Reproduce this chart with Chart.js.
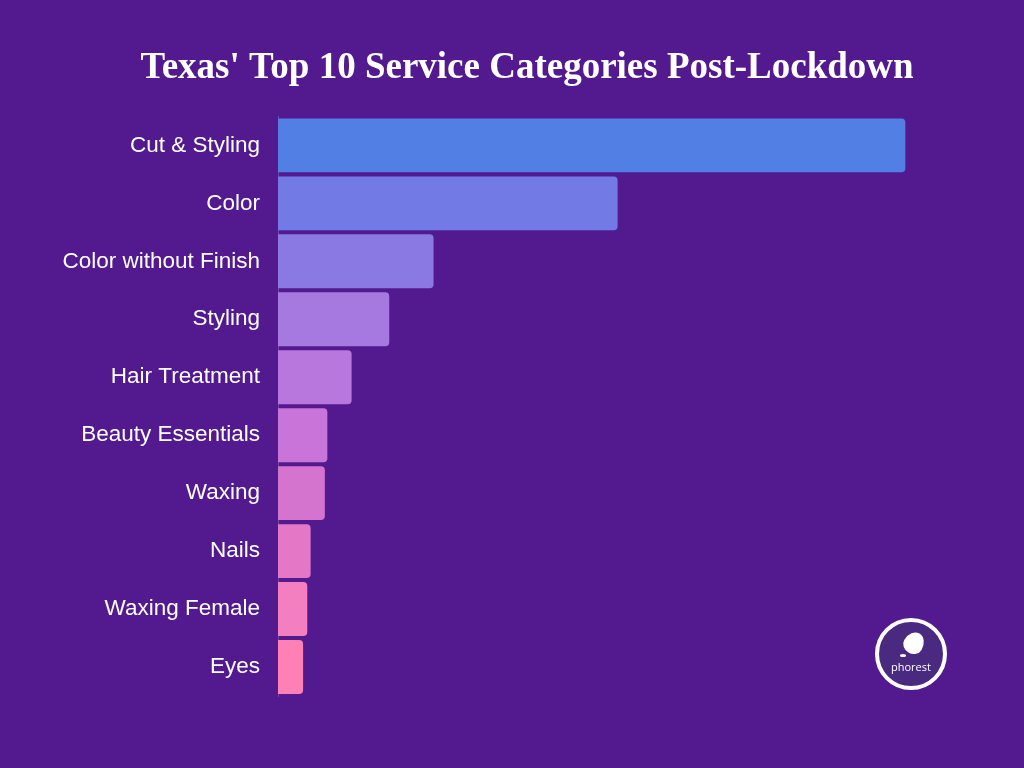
<!DOCTYPE html>
<html>
<head>
<meta charset="utf-8">
<script src="https://cdn.jsdelivr.net/npm/chart.js@4/dist/chart.umd.min.js"></script>
<style>
  html, body { margin: 0; padding: 0; background: #521A8E; }
  #wrap { position: relative; width: 1024px; height: 768px; }
  #logo { position: absolute; left: 875px; top: 618px; width: 64px; height: 64px; border: 4px solid #ffffff; border-radius: 50%; background: #4A2A80; }
  #logo .egg { position: absolute; left: 25px; top: 10px; width: 20px; height: 22px; background: #fff; border-radius: 50% 50% 50% 50% / 60% 60% 40% 40%; transform: rotate(30deg); }
  #logo .dot { position: absolute; left: 21px; top: 32px; width: 6px; height: 3px; background: #fff; border-radius: 50%; }
  #logo .txt { position: absolute; left: 0; width: 64px; top: 37px; text-align: center; color: #fff; font: 11px "Open Sans", sans-serif; }
</style>
</head>
<body>
<div id="wrap">
<canvas id="c" width="1024" height="768"></canvas>
<div id="logo"><div class="egg"></div><div class="dot"></div><div class="txt">phorest</div></div>
</div>
<script>
const categories = ["Cut & Styling", "Color", "Color without Finish", "Styling", "Hair Treatment", "Beauty Essentials", "Waxing", "Nails", "Waxing Female", "Eyes"];
const values = [37.5, 20.3, 9.3, 6.65, 4.4, 2.95, 2.8, 1.95, 1.75, 1.5];
const barColors = ["#517FE3", "#727BE5", "#8A79E2", "#A579E0", "#B877DD", "#C974D8", "#D574CE", "#E578C6", "#F47FC0", "#FE80B4"];
const chartTitle = "Texas' Top 10 Service Categories Post-Lockdown";

new Chart(document.getElementById('c'), {
  type: 'bar',
  data: {
    labels: categories,
    datasets: [{
      data: values,
      backgroundColor: barColors,
      borderRadius: 4,
      borderSkipped: 'start',
      barPercentage: 0.93,
      categoryPercentage: 1.0
    }]
  },
  options: {
    indexAxis: 'y',
    responsive: false,
    animation: false,
    layout: { padding: { left: 60, right: 30, top: 0, bottom: 72 } },
    plugins: {
      legend: { display: false },
      tooltip: { enabled: false },
      title: {
        display: true,
        text: chartTitle,
        color: '#ffffff',
        font: { family: '"Liberation Serif", "DejaVu Serif", serif', size: 37, weight: 'bold' },
        lineHeight: 1.2,
        padding: { top: 46, bottom: 26 }
      }
    },
    scales: {
      x: {
        display: false,
        min: 0,
        max: 42.8
      },
      y: {
        grid: { display: false },
        border: { display: true, color: 'rgba(255,255,255,0.2)' },
        ticks: {
          color: '#ffffff',
          padding: 10,
          font: { family: '"Liberation Sans", Arial, sans-serif', size: 22.5 }
        },
        afterFit(scale) { scale.width = 218; }
      }
    }
  }
});
</script>
</body>
</html>
